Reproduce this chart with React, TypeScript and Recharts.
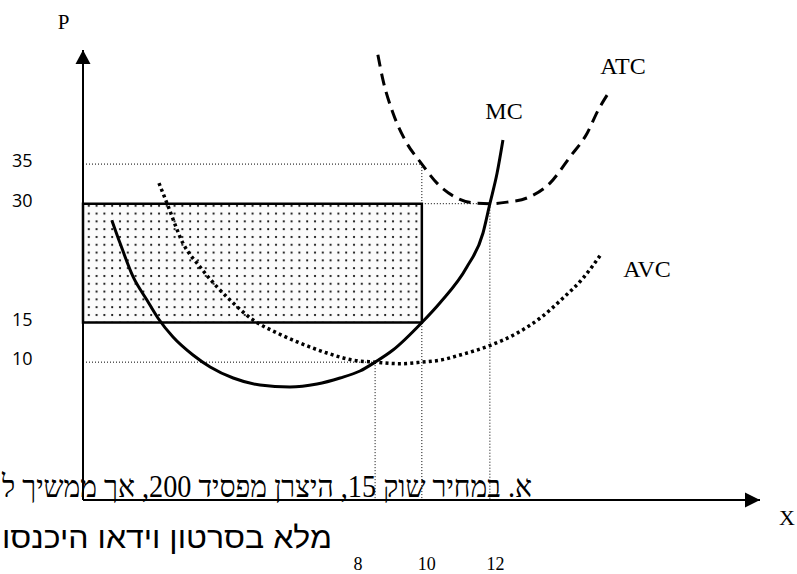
import React from 'react';
import {
  ComposedChart,
  Line,
  XAxis,
  YAxis,
  ReferenceLine,
  ReferenceArea,
  ReferenceDot,
} from 'recharts';

// ---- axes ----
const X_DOMAIN: [number, number] = [0, 19.7];
const Y_DOMAIN: [number, number] = [-7.4, 49.4];
const xTicks = [8, 10, 12];
const yTicks = [10, 15, 30, 35];

// ---- MC (marginal cost) ----
const mcQ = [0.84, 1.08, 1.46, 1.86, 2.18, 2.62, 3.2, 3.7, 4.37, 5.15, 6.02, 6.81, 7.48, 8.06, 8.5, 9.02, 9.86, 10.39, 11.17, 11.64, 11.84, 12.05, 12.22];
const mcP = [27.9, 25.0, 20.75, 17.84, 15.57, 13.17, 10.9, 9.39, 8.0, 7.11, 6.86, 7.24, 8.0, 8.88, 10.0, 11.53, 15.0, 17.5, 22.0, 26.3, 30.0, 33.87, 38.04];

// ---- ATC (average total cost) ----
const atcQ = [8.58, 8.73, 9.02, 9.37, 9.86, 10.3, 10.88, 11.46, 11.84, 12.34, 12.92, 13.59, 14.17, 14.67, 14.99, 15.25];
const atcP = [48.8, 45.6, 41.45, 38.04, 35.0, 32.6, 30.72, 30.05, 30.0, 30.2, 30.72, 32.6, 35.9, 38.9, 41.8, 43.7];

// ---- AVC (average variable cost) ----
const avcQ = [2.21, 2.44, 2.91, 3.41, 3.9, 4.37, 4.95, 5.65, 6.31, 7.1, 7.86, 8.5, 9.22, 9.86, 10.39, 10.97, 11.84, 12.63, 13.3, 13.97, 14.55, 15.07];
const avcP = [32.6, 30.1, 25.0, 22.0, 19.5, 17.46, 15.32, 13.68, 12.42, 11.15, 10.25, 10.0, 9.8, 10.0, 10.25, 10.9, 12.1, 13.66, 15.55, 18.1, 20.6, 23.6];

// ---- guide lines (dotted) ----
const guideStartQ = [0, 9.86, 0];
const guideEndQ = [9.86, 11.84, 8.5];
const guideP = [35, 30, 10];

// ---- loss rectangle ----
const rectQ = [0, 9.86];
const rectP = [15, 30];

const toRows = (qs: number[], ps: number[]) => qs.map((q, i) => ({ q, p: ps[i] }));
const mcData = toRows(mcQ, mcP);
const atcData = toRows(atcQ, atcP);
const avcData = toRows(avcQ, avcP);

const XTick = (props: any) => {
  const { x, y, payload } = props;
  return (
    <text x={x} y={y + 70} textAnchor="middle" fontFamily="'Liberation Serif', serif" fontSize={18} fill="#000">
      {payload.value}
    </text>
  );
};

const YTick = (props: any) => {
  const { x, y, payload } = props;
  return (
    <text x={x - 71} y={y - 4} dominantBaseline="central" textAnchor="start" fontFamily="'Open Sans', sans-serif" fontSize={18} fill="#000">
      {payload.value}
    </text>
  );
};

const UpArrow = (p: any) => (
  <polygon points={`${p.cx},${p.cy} ${p.cx - 7.5},${p.cy + 14} ${p.cx + 7.5},${p.cy + 14}`} fill="#000" />
);
const RightArrow = (p: any) => (
  <polygon points={`${p.cx},${p.cy} ${p.cx - 15},${p.cy - 7.5} ${p.cx - 15},${p.cy + 7.5}`} fill="#000" />
);

const serif = "'Liberation Serif', 'Times New Roman', serif";

export default function App() {
  return (
    <div style={{ position: 'absolute', left: 0, top: 0, width: 797, height: 574, background: '#fff', overflow: 'hidden' }}>
      <ComposedChart width={797} height={574} margin={{ top: 50, right: 37, bottom: 0, left: 0 }}>
        <defs>
          <pattern id="dots" width="7.8" height="7.8" patternUnits="userSpaceOnUse">
            <rect width="7.8" height="7.8" fill="#fbfbfb" />
            <circle cx="3" cy="3" r="1.1" fill="#000" />
          </pattern>
        </defs>
        <XAxis
          type="number"
          dataKey="q"
          domain={X_DOMAIN}
          allowDataOverflow
          ticks={xTicks}
          interval={0}
          tick={<XTick />}
          tickLine={false}
          tickSize={0}
          tickMargin={0}
          axisLine={{ stroke: '#000', strokeWidth: 2 }}
          height={74}
        />
        <YAxis
          type="number"
          domain={Y_DOMAIN}
          allowDataOverflow
          ticks={yTicks}
          interval={0}
          tick={<YTick />}
          tickLine={false}
          tickSize={0}
          tickMargin={0}
          axisLine={{ stroke: '#000', strokeWidth: 2 }}
          width={83}
        />
        <ReferenceArea
          x1={rectQ[0]}
          x2={rectQ[1]}
          y1={rectP[0]}
          y2={rectP[1]}
          fill="url(#dots)"
          fillOpacity={1}
          stroke="#000"
          strokeWidth={2.5}
          ifOverflow="visible"
        />
        {guideP.map((p, i) => (
          <ReferenceLine
            key={`h${i}`}
            segment={[{ x: guideStartQ[i], y: p }, { x: guideEndQ[i], y: p }]}
            stroke="#000"
            strokeWidth={1}
            strokeDasharray="1 2"
            ifOverflow="visible"
          />
        ))}
        {guideP.map((p, i) => (
          <ReferenceLine
            key={`v${i}`}
            segment={[{ x: guideEndQ[i], y: p }, { x: guideEndQ[i], y: Y_DOMAIN[0] }]}
            stroke="#000"
            strokeWidth={1}
            strokeDasharray="1 2"
            ifOverflow="visible"
          />
        ))}
        <Line data={avcData} dataKey="p" type="monotone" stroke="#000" strokeWidth={3.5} strokeDasharray="3 3.2" dot={false} isAnimationActive={false} />
        <Line data={atcData} dataKey="p" type="monotone" stroke="#000" strokeWidth={3} strokeDasharray="12 7" dot={false} isAnimationActive={false} />
        <Line data={mcData} dataKey="p" type="monotone" stroke="#000" strokeWidth={3} dot={false} isAnimationActive={false} />
        <ReferenceDot x={X_DOMAIN[0]} y={Y_DOMAIN[1]} r={0} shape={UpArrow} ifOverflow="visible" />
        <ReferenceDot x={X_DOMAIN[1]} y={Y_DOMAIN[0]} r={0} shape={RightArrow} ifOverflow="visible" />

        <text x={63.5} y={29} textAnchor="middle" fontFamily={serif} fontSize={21} fill="#000">P</text>
        <text x={787} y={525} textAnchor="middle" fontFamily={serif} fontSize={22} fill="#000">X</text>
        <text x={504} y={119} textAnchor="middle" fontFamily={serif} fontSize={24} fill="#000">MC</text>
        <text x={623} y={74} textAnchor="middle" fontFamily={serif} fontSize={24} fill="#000">ATC</text>
        <text x={647} y={277} textAnchor="middle" fontFamily={serif} fontSize={24} fill="#000">AVC</text>

        <text
          x={532}
          y={497}
          direction="rtl"
          textAnchor="start"
          fontFamily={serif}
          fontSize={31}
          fill="#000"
          textLength={530}
          lengthAdjust="spacingAndGlyphs"
        >
          א. במחיר שוק 15, היצרן מפסיד 200, אך ממשיך ל
        </text>
        <text
          x={332}
          y={548}
          direction="rtl"
          textAnchor="start"
          fontFamily="'Liberation Sans', Arial, sans-serif"
          fontSize={30}
          fill="#000"
          textLength={330}
          lengthAdjust="spacingAndGlyphs"
        >
          מלא בסרטון וידאו היכנסו
        </text>
      </ComposedChart>
    </div>
  );
}
